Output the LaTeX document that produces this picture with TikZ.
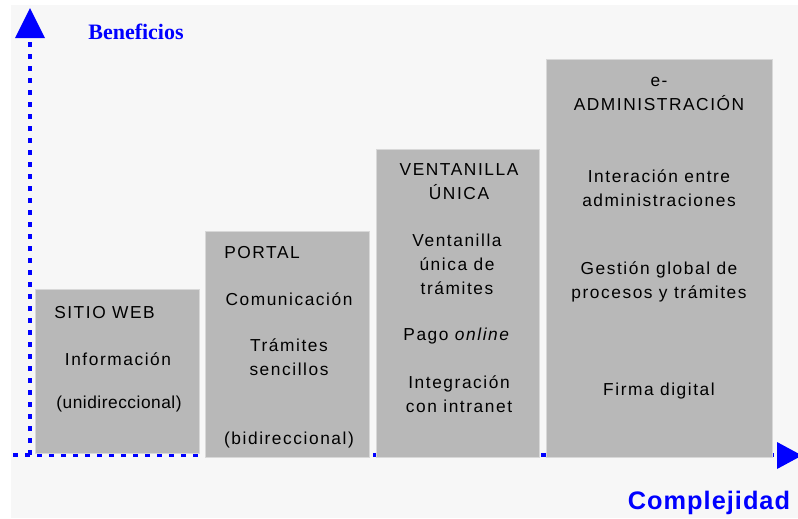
\documentclass[tikz,border=0pt]{standalone}
\usepackage{fontspec}
\setmainfont{Liberation Sans}
\newfontfamily\boxfont[LetterSpace=9]{Liberation Sans}
\newfontfamily\tightfont[LetterSpace=3]{Liberation Sans}
\newfontfamily\titlefont[LetterSpace=4]{Liberation Sans}
\newfontfamily\serifbold{Liberation Serif}
\usetikzlibrary{calc}

\definecolor{axisblue}{RGB}{0,0,255}
\definecolor{boxgray}{RGB}{184,184,184}
\definecolor{backgray}{RGB}{247,247,247}

\tikzset{
	stepbox/.style={fill=boxgray, draw=boxgray!55!white, line width=0.6pt},
	axisdots/.style={axisblue, line width=3.4pt, dash pattern=on 3.4pt off 5.6pt},
	boxtext/.style={font=\boxfont\fontsize{13}{18}\selectfont, align=center, inner sep=0pt},
}

\begin{document}
\begin{tikzpicture}[x=0.75pt, y={(0,-0.75pt)}]
			%%%%% START %%%%%
			
			\useasboundingbox (0, 0) rectangle (798, 518);
			\fill[backgray] (11, 5) rectangle (798, 518);
			
			% axes
			\coordinate (ytop) at (30, 42);
			\coordinate (xleft) at (13, 455);
			\coordinate (origin) at (30, 455);
			\coordinate (xright) at (777, 455);
			\draw[axisdots] (origin) -- (ytop);
			\draw[axisdots] (xleft) -- (xright);
			
			% steps
			\filldraw[stepbox] (35, 289) rectangle (199, 453);
			\filldraw[stepbox] (205, 231) rectangle (369, 457);
			\filldraw[stepbox] (376, 149) rectangle (539, 457);
			\filldraw[stepbox] (546, 59) rectangle (772, 457);
			
			% arrow heads
			\fill[axisblue] (30, 8) -- (45, 38) -- (15, 38) -- cycle;
			\fill[axisblue] (777, 442) -- (802, 455.5) -- (777, 469) -- cycle;
			
			\node[font=\serifbold\bfseries\fontsize{16.5}{18}\selectfont, text=axisblue, inner sep=0pt] (beneficios) at (136, 32) {Beneficios};
			\node[font=\titlefont\bfseries\fontsize{19}{22}\selectfont, text=axisblue, inner sep=0pt] (complejidad) at (709, 503) {Complejidad};
			
			% SITIO WEB
			\node[boxtext, anchor=west] (webtitle) at (54, 313) {SITIO WEB};
			\node[boxtext] (webinfo) at (118, 359) {Información};
			\node[boxtext, font=\tightfont\fontsize{13}{18}\selectfont] (webdir) at (119, 404) {(unidireccional)};
			
			% PORTAL
			\node[boxtext, anchor=west] (portaltitle) at (224, 253) {PORTAL};
			\node[boxtext] (portalcom) at (289, 299) {Comunicación};
			\node[boxtext] (portaltram) at (289, 357) {Trámites\\sencillos};
			\node[boxtext] (portaldir) at (289, 440) {(bidireccional)};
			
			% VENTANILLA UNICA
			\node[boxtext] (ventitle) at (459, 182) {VENTANILLA\\ÚNICA};
			\node[boxtext] (ventram) at (457, 264) {Ventanilla\\única de\\trámites};
			\node[boxtext] (venpago) at (457, 336) {Pago \textit{online}};
			\node[boxtext] (venint) at (459, 394) {Integración\\con intranet};
			
			% e-ADMINISTRACION
			\node[boxtext] (admintitle) at (659, 94) {e-\\ADMINISTRACIÓN};
			\node[boxtext] (adminint) at (659, 188) {Interación entre\\administraciones};
			\node[boxtext] (admingest) at (659, 282) {Gestión global de\\procesos y trámites};
			\node[boxtext] (adminfirma) at (659, 391) {Firma digital};
			
			%%%%% END %%%%%
\end{tikzpicture}
\end{document}
